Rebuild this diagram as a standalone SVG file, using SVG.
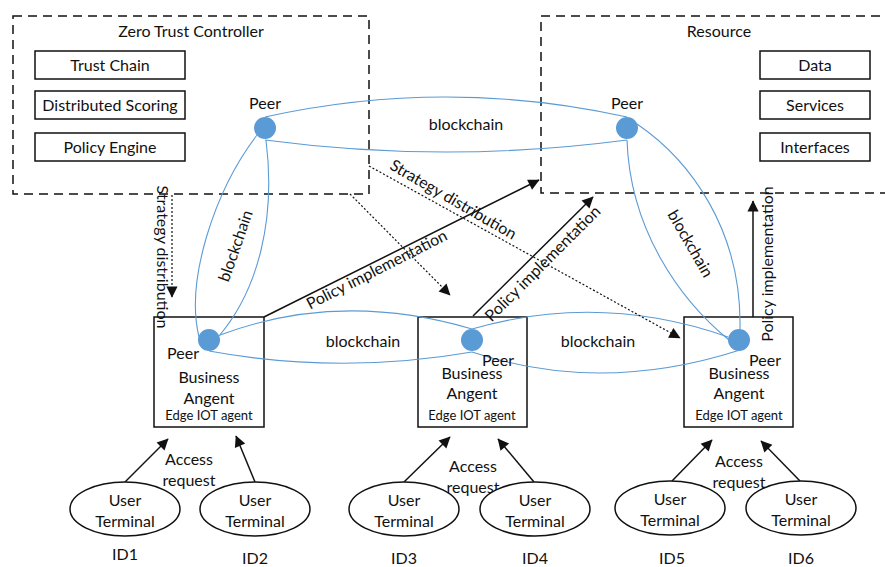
<svg xmlns="http://www.w3.org/2000/svg" width="885" height="567" viewBox="0 0 885 567">
  <style>
    text { font-family: Lato, "Open Sans", "Liberation Sans", sans-serif; font-size: 16px; fill: #111; text-anchor: middle; }
    .small { font-size: 13px; }
    .dash { fill: none; stroke: #111; stroke-width: 1.5; stroke-dasharray: 9 6; }
    .box { fill: #fff; stroke: #111; stroke-width: 1.5; }
    .chain { fill: none; stroke: #5B9BD5; stroke-width: 1.1; }
    .peer { fill: #5B9BD5; }
    .solid { fill: none; stroke: #111; stroke-width: 1.5; marker-end: url(#head); }
    .dot { fill: none; stroke: #111; stroke-width: 1.2; stroke-dasharray: 2 2; marker-end: url(#head); }
    .term { fill: #fff; stroke: #111; stroke-width: 1.5; }
  </style>
  <defs>
    <marker id="head" viewBox="0 0 10 10" refX="9" refY="5" markerWidth="8" markerHeight="8" markerUnits="userSpaceOnUse" orient="auto" overflow="visible">
      <path d="M0,0 L10,5 L0,10 Z" fill="#111" transform="scale(1.4) translate(-3,-1.4)"/>
    </marker>
  </defs>
  <rect width="885" height="567" fill="#fff"/>

  <!-- Zero Trust Controller -->
  <g id="controller">
    <rect class="dash" x="13" y="16" width="356" height="178"/>
    <text x="191" y="37">Zero Trust Controller</text>
    <rect class="box" x="35" y="51" width="150" height="28"/>
    <text x="110" y="71">Trust Chain</text>
    <rect class="box" x="35" y="91" width="150" height="28"/>
    <text x="110" y="111">Distributed Scoring</text>
    <rect class="box" x="35" y="133" width="150" height="28"/>
    <text x="110" y="153">Policy Engine</text>
  </g>

  <!-- Resource -->
  <g id="resource">
    <path class="dash" d="M895,16 H541 V193 H895"/>
    <text x="719" y="37">Resource</text>
    <rect class="box" x="760" y="51" width="110" height="28"/>
    <text x="815" y="71">Data</text>
    <rect class="box" x="760" y="91" width="110" height="28"/>
    <text x="815" y="111">Services</text>
    <rect class="box" x="760" y="133" width="110" height="28"/>
    <text x="815" y="153">Interfaces</text>
  </g>

  <!-- Business agents -->
  <g id="agent1">
    <rect class="box" x="154" y="317" width="110" height="110"/>
    <text x="183" y="359">Peer</text>
    <text x="209" y="383">Business</text>
    <text x="209" y="404">Angent</text>
    <text class="small" x="209" y="420">Edge IOT agent</text>
  </g>
  <g id="agent2">
    <rect class="box" x="418" y="317" width="109" height="110"/>
    <text x="472" y="379">Business</text>
    <text x="472" y="399">Angent</text>
    <text class="small" x="472" y="420">Edge IOT agent</text>
  </g>
  <g id="agent3">
    <rect class="box" x="684" y="317" width="109" height="110"/>
    <text x="739" y="379">Business</text>
    <text x="739" y="399">Angent</text>
    <text class="small" x="739" y="420">Edge IOT agent</text>
  </g>

  <!-- Blockchain links between peers -->
  <g id="connectors">
    <path class="chain" d="M265,117 Q446,77 627,117"/>
    <path class="chain" d="M265,140 Q446,164 627,140"/>
    <path class="chain" d="M257,135 C215,190 185,280 199,337"/>
    <path class="chain" d="M266,140 C276,220 258,290 219,336"/>
    <path class="chain" d="M637,124 C690,160 742,230 740,329"/>
    <path class="chain" d="M627,140 C630,230 680,300 729,340"/>
    <path class="chain" d="M220,335 Q340,290 472,329"/>
    <path class="chain" d="M209,351 Q340,375 472,352"/>
    <path class="chain" d="M472,329 Q600,292 728,337"/>
    <path class="chain" d="M472,352 Q600,395 740,350"/>

    <!-- Strategy distribution (dotted) -->
    <path class="dot" d="M172,195 V297"/>
    <path class="dot" d="M350,194 L450,295"/>
    <path class="dot" d="M369,166 L680,338"/>

    <!-- Policy implementation (solid) -->
    <path class="solid" d="M264,317 L539,180"/>
    <path class="solid" d="M473,316 L593,197"/>
    <path class="solid" d="M753,317 V201"/>

    <!-- Access requests -->
    <path class="solid" d="M125,482 L168,439"/>
    <path class="solid" d="M255,482 L236,436"/>
    <path class="solid" d="M404,482 L450,437"/>
    <path class="solid" d="M534,482 L498,439"/>
    <path class="solid" d="M672,481 L712,440"/>
    <path class="solid" d="M800,481 L761,441"/>
  </g>

  <!-- Peers -->
  <g id="peer-controller">
    <circle class="peer" cx="265" cy="128" r="11"/>
    <text x="265" y="109">Peer</text>
  </g>
  <g id="peer-resource">
    <circle class="peer" cx="627" cy="128" r="11"/>
    <text x="627" y="109">Peer</text>
  </g>
  <g id="peer-agent1">
    <circle class="peer" cx="209" cy="340" r="11"/>
  </g>
  <g id="peer-agent2">
    <circle class="peer" cx="472" cy="340" r="11"/>
    <text x="498" y="366">Peer</text>
  </g>
  <g id="peer-agent3">
    <circle class="peer" cx="739" cy="340" r="11"/>
    <text x="765" y="366">Peer</text>
  </g>

  <!-- Link labels -->
  <g id="labels">
    <text x="466" y="130">blockchain</text>
    <text x="363" y="347">blockchain</text>
    <text x="598" y="347">blockchain</text>
    <text transform="translate(236,246) rotate(-71)" y="5">blockchain</text>
    <text transform="translate(690,244) rotate(60)" y="5">blockchain</text>
    <text transform="translate(162,257) rotate(90)" y="5">Strategy distribution</text>
    <text transform="translate(453,200) rotate(30)" y="5">Strategy distribution</text>
    <text transform="translate(377,270) rotate(-27)" y="5">Policy implementation</text>
    <text transform="translate(543,264) rotate(-45)" y="5">Policy implementation</text>
    <text transform="translate(768,264) rotate(-90)" y="5">Policy implementation</text>
    <text x="189" y="465">Access</text>
    <text x="189" y="486">request</text>
    <text x="473" y="472">Access</text>
    <text x="473" y="493">request</text>
    <text x="739" y="467">Access</text>
    <text x="739" y="488">request</text>
  </g>

  <!-- User terminals -->
  <g id="terminal1">
    <ellipse class="term" cx="125" cy="509" rx="55" ry="27"/>
    <text x="125" y="506">User</text>
    <text x="125" y="527">Terminal</text>
    <text x="125" y="560">ID1</text>
  </g>
  <g id="terminal2">
    <ellipse class="term" cx="255" cy="509" rx="55" ry="27"/>
    <text x="255" y="506">User</text>
    <text x="255" y="527">Terminal</text>
    <text x="255" y="564">ID2</text>
  </g>
  <g id="terminal3">
    <ellipse class="term" cx="404" cy="509" rx="55" ry="27"/>
    <text x="404" y="506">User</text>
    <text x="404" y="527">Terminal</text>
    <text x="404" y="564">ID3</text>
  </g>
  <g id="terminal4">
    <ellipse class="term" cx="535" cy="509" rx="55" ry="27"/>
    <text x="535" y="506">User</text>
    <text x="535" y="527">Terminal</text>
    <text x="535" y="564">ID4</text>
  </g>
  <g id="terminal5">
    <ellipse class="term" cx="670" cy="508" rx="55" ry="27"/>
    <text x="670" y="505">User</text>
    <text x="670" y="526">Terminal</text>
    <text x="672" y="564">ID5</text>
  </g>
  <g id="terminal6">
    <ellipse class="term" cx="801" cy="508" rx="55" ry="27"/>
    <text x="801" y="505">User</text>
    <text x="801" y="526">Terminal</text>
    <text x="801" y="564">ID6</text>
  </g>
</svg>
